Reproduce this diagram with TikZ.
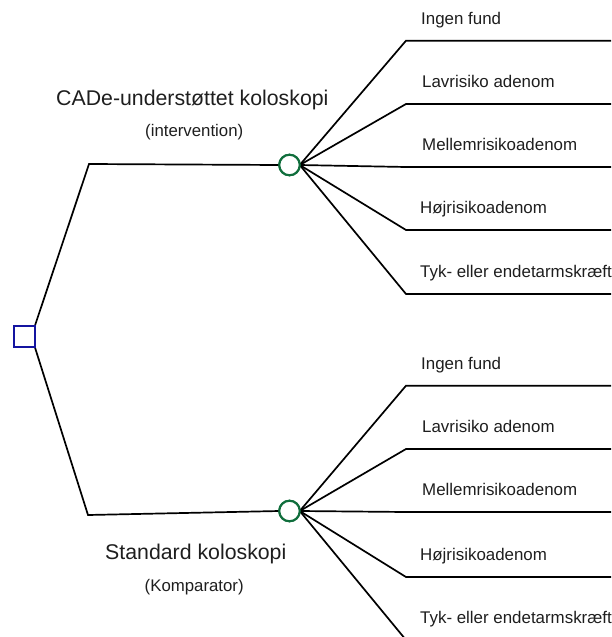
\documentclass[tikz,border=0pt]{standalone}
\usepackage{fontspec}
\setmainfont{Liberation Sans}
\definecolor{decblue}{RGB}{20,20,160}
\definecolor{chgreen}{RGB}{16,110,60}
\definecolor{txt}{RGB}{30,30,30}
\begin{document}
\begin{tikzpicture}[x=1pt,y=-1pt,
  branch/.style={draw=black,line width=1.7pt,line join=miter},
  decnode/.style={draw=decblue,line width=2pt,rectangle,minimum size=20.5pt,inner sep=0pt,outer sep=0pt,fill=white},
  chancenode/.style={draw=chgreen,line width=2.1pt,circle,minimum size=20.5pt,inner sep=0pt,outer sep=0pt,fill=white},
  armtitle/.style={anchor=base west,inner sep=0pt,text=txt,font=\fontsize{21.3}{24}\selectfont},
  armsub/.style={anchor=base west,inner sep=0pt,text=txt,font=\fontsize{16.8}{19}\selectfont},
  outcome/.style={anchor=base west,inner sep=0pt,text=txt,font=\fontsize{16.9}{19}\selectfont}]
\useasboundingbox (0,0) rectangle (611,637);
\clip (0,0) rectangle (611,637);

% decision node and chance nodes
\node[decnode] (root) at (24.5,336.5) {};
\node[chancenode] (c1) at (289.5,165) {};
\node[chancenode] (c2) at (289.5,511) {};
\coordinate (k1) at (89,164);
\coordinate (k2) at (88,515);

% top outcome bends and ends
\coordinate (a1) at (406,40.7);
\coordinate (a2) at (406,104);
\coordinate (a3) at (406,167);
\coordinate (a4) at (406,230);
\coordinate (a5) at (406,294);
\coordinate (e1) at (615,40.7);
\coordinate (e2) at (615,104);
\coordinate (e3) at (615,167);
\coordinate (e4) at (615,230);
\coordinate (e5) at (615,294);
% bottom outcome bends and ends
\coordinate (b1) at (406,385.7);
\coordinate (b2) at (406,449);
\coordinate (b3) at (406,512);
\coordinate (b4) at (406,577);
\coordinate (b5) at (406,640);
\coordinate (f1) at (615,385.7);
\coordinate (f2) at (615,449);
\coordinate (f3) at (615,512);
\coordinate (f4) at (615,577);
\coordinate (f5) at (615,640);

% arms
\draw[branch] (root.north east) -- (k1) -- (c1.west);
\draw[branch] (root.south east) -- (k2) -- (c2.west);

% branches
\foreach \i in {1,...,5}{
  \draw[branch] (c1.east) -- (a\i) -- (e\i);
  \draw[branch] (c2.east) -- (b\i) -- (f\i);
}
% redraw nodes on top
\node[decnode] at (root) {};
\node[chancenode] at (c1) {};
\node[chancenode] at (c2) {};

% arm labels
\node[armtitle] (t1) at (56,105) {CADe-understøttet koloskopi};
\node[armsub] (s1) at (145,136.5) {(intervention)};
\node[armtitle] (t2) at (105,559) {Standard koloskopi};
\node[armsub] (s2) at (144.5,591.5) {(Komparator)};

% outcome labels
\node[outcome] (o1) at (421,24) {Ingen fund};
\node[outcome] (o2) at (422,87.3) {Lavrisiko adenom};
\node[outcome] (o3) at (422,150.3) {Mellemrisikoadenom};
\node[outcome] (o4) at (420,213.3) {Højrisikoadenom};
\node[outcome] (o5) at (420,277.3) {Tyk- eller endetarmskræft};
\node[outcome] (p1) at (421,369) {Ingen fund};
\node[outcome] (p2) at (422,432.3) {Lavrisiko adenom};
\node[outcome] (p3) at (422,495.3) {Mellemrisikoadenom};
\node[outcome] (p4) at (420,560.3) {Højrisikoadenom};
\node[outcome] (p5) at (420,623.3) {Tyk- eller endetarmskræft};
\end{tikzpicture}
\end{document}
